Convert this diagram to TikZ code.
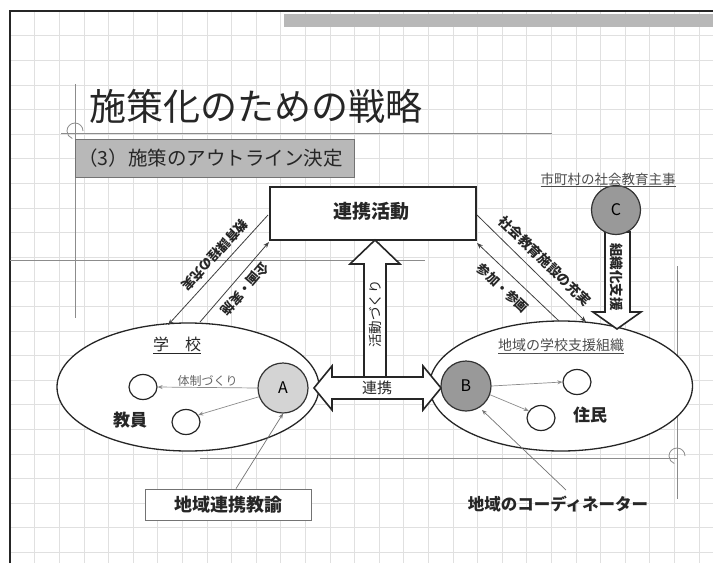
\documentclass[tikz,border=0pt]{standalone}
\usepackage{fontspec}
\setmainfont{Noto Sans CJK JP}
\usetikzlibrary{arrows.meta,shapes.geometric}
\begin{document}
\begin{tikzpicture}[x=1pt,y=-1pt,
  txt/.style={inner sep=0pt, text=black!85},
  guide/.style={draw=black!45, line width=0.8pt},
  conn/.style={draw=black!75, line width=0.8pt, -{Stealth[length=6pt,width=4.5pt]}},
  lconn/.style={draw=black!45, line width=0.7pt, -{Stealth[length=5pt,width=4pt]}},
  blockarrow/.style={draw=black!85, line width=1.6pt, fill=white, line join=miter},
  bigoval/.style={ellipse, draw=black!85, line width=1.3pt, fill=white, inner sep=0pt},
  smallo/.style={ellipse, draw=black!85, line width=1.2pt, fill=white, minimum width=28pt, minimum height=25pt, inner sep=0pt},
  person/.style={circle, draw=black!80, line width=1.2pt, minimum size=50pt, inner sep=0pt, font=\fontsize{16}{16}\selectfont}
]
\useasboundingbox (0,0) rectangle (713,563);
\fill[white] (0,0) rectangle (713,563);
% grid
\foreach \gx in {0,...,28} { \draw[black!12, line width=0.6pt] ({10+24.6*\gx},11) -- ({10+24.6*\gx},563); }
\foreach \gy in {0,...,22} { \draw[black!12, line width=0.6pt] (10,{11+24.6*\gy}) -- (713,{11+24.6*\gy}); }
% frame and top bar
\draw[black!85, line width=1.4pt] (10,563) -- (10,11) -- (713,11);
\fill[black!28] (284,14) rectangle (713,27);
% decorative guides
\draw[guide] (61,133) -- (552,133);
\draw[guide] (75,84) -- (75,318);
\draw[guide] (83,131) arc (0:-250:8);
\draw[guide] (10,260) -- (425,260);
\draw[guide] (677,266) -- (677,499);
\draw[guide] (200,458) -- (677,458);
\draw[guide] (685,456) arc (0:-250:8);

% title
\node[txt, anchor=west, font=\fontsize{37}{37}\selectfont] (title) at (89,106) {施策化のための戦略};
\node[draw=black!55, line width=0.8pt, fill=black!28, minimum width=279pt, minimum height=38pt, inner sep=0pt] (subbox) at (214.5,158) {};
\node[txt, anchor=west, font=\fontsize{19.5}{20}\selectfont] (subtitle) at (78,158) {（3）施策のアウトライン決定};

% central activity box
\node[draw=black!85, line width=1.5pt, fill=white, minimum width=206pt, minimum height=53pt, inner sep=0pt] (act) at (373,213.5) {};
\node[txt, font=\fontsize{19}{19}\selectfont\bfseries] (acttext) at (371,211) {連携活動};

% ellipses
\node[bigoval, minimum width=262pt, minimum height=128pt] (school) at (188,387) {};
\node[bigoval, minimum width=263pt, minimum height=130pt] (org) at (561,386) {};

% C block arrow (drawn before the circle)
\coordinate (ctip) at (617,329);
\draw[blockarrow] (605,232) -- (630,232) -- (630,312) -- (641,312) -- (ctip) -- (593,312) -- (605,312) -- cycle;
\node[txt, rotate=-90, font=\fontsize{13.5}{14}\selectfont\bfseries] (clabel) at (617,277) {組織化支援};

% vertical block arrow
\coordinate (vtip) at (375,240);
\draw[blockarrow] (364,377) -- (364,264) -- (350,264) -- (vtip) -- (400,264) -- (386,264) -- (386,377);
\node[txt, rotate=90, font=\fontsize{13.5}{14}\selectfont] (vlabel) at (375,314) {活動づくり};

% horizontal double block arrow
\coordinate (hl) at (314,388);
\coordinate (hr) at (441,388);
\draw[blockarrow] (hl) -- (332,366) -- (332,377) -- (423,377) -- (423,366) -- (hr) -- (423,410) -- (423,399) -- (332,399) -- (332,410) -- cycle;
\node[txt, font=\fontsize{15}{15}\selectfont] (hlabel) at (377,388) {連携};

% persons
\node[person, fill=black!17] (A) at (283,388) {A};
\node[person, fill=black!40] (B) at (466,386) {B};
\node[person, fill=black!40, minimum size=49pt] (C) at (616,210) {C};
\node[txt, font=\fontsize{13.5}{14}\selectfont, text=black!70] (clbl) at (608,180) {\underline{市町村の社会教育主事}};

% school contents
\node[txt, font=\fontsize{16}{16}\selectfont] (gakko) at (177,345) {\underline{学　校}};
\node[smallo] (t1) at (143,387) {};
\node[smallo] (t2) at (186,422) {};
\node[txt, font=\fontsize{17}{17}\selectfont\bfseries] (kyoin) at (130,420) {教員};
\draw[lconn] (A.west) -- (t1.east) node[midway, above=1pt, txt, text=black!60, font=\fontsize{12}{12}\selectfont] (taisei) {体制づくり};
\draw[lconn] (A.200) -- (t2.30);

% organisation contents
\node[txt, font=\fontsize{14}{14}\selectfont, text=black!70] (orgl) at (561,346) {\underline{地域の学校支援組織}};
\node[smallo] (r1) at (577,382) {};
\node[smallo] (r2) at (541,418) {};
\node[txt, font=\fontsize{17}{17}\selectfont\bfseries] (jumin) at (590,415) {住民};
\draw[lconn] (B.east) -- (r1.west);
\draw[lconn] (B.-20) -- (r2.150);

% diagonal connectors
\coordinate (lu1) at (268,215);
\coordinate (lu2) at (168,325);
\coordinate (ll1) at (200,322);
\coordinate (ll2) at (269,242);
\coordinate (ru1) at (477,215);
\coordinate (ru2) at (586,322);
\coordinate (rl1) at (559,321);
\coordinate (rl2) at (477,243);
\draw[conn] (lu1) -- (lu2);
\draw[conn] (ll1) -- (ll2);
\draw[conn] (ru1) -- (ru2);
\draw[conn] (rl1) -- (rl2);
\node[txt, rotate=-132.3, font=\fontsize{13}{13}\selectfont\bfseries] (l1lab) at (215,255) {教育課程の充実};
\node[txt, rotate=-130.7, font=\fontsize{13}{13}\selectfont\bfseries] (l2lab) at (245,289) {企画・実施};
\node[txt, rotate=-44.2, font=\fontsize{13.5}{13.5}\selectfont\bfseries] (r1lab) at (545,261) {社会教育施設の充実};
\node[txt, rotate=-43.2, font=\fontsize{13}{13}\selectfont\bfseries] (r2lab) at (503,288) {参加・参画};

% bottom labels
\node[draw=black!55, line width=0.8pt, fill=white, minimum width=166pt, minimum height=31pt, inner sep=0pt, font=\fontsize{18}{18}\selectfont\bfseries, text=black!85] (teacher) at (228,504.5) {地域連携教諭};
\node[txt, font=\fontsize{16.5}{17}\selectfont\bfseries] (coord) at (558,504) {地域のコーディネーター};
\draw[lconn, draw=black!55] (teacher.north -| 236,0) -- (A.south);
\draw[lconn, draw=black!55] (566,490) -- (482,410);
\end{tikzpicture}
\end{document}
